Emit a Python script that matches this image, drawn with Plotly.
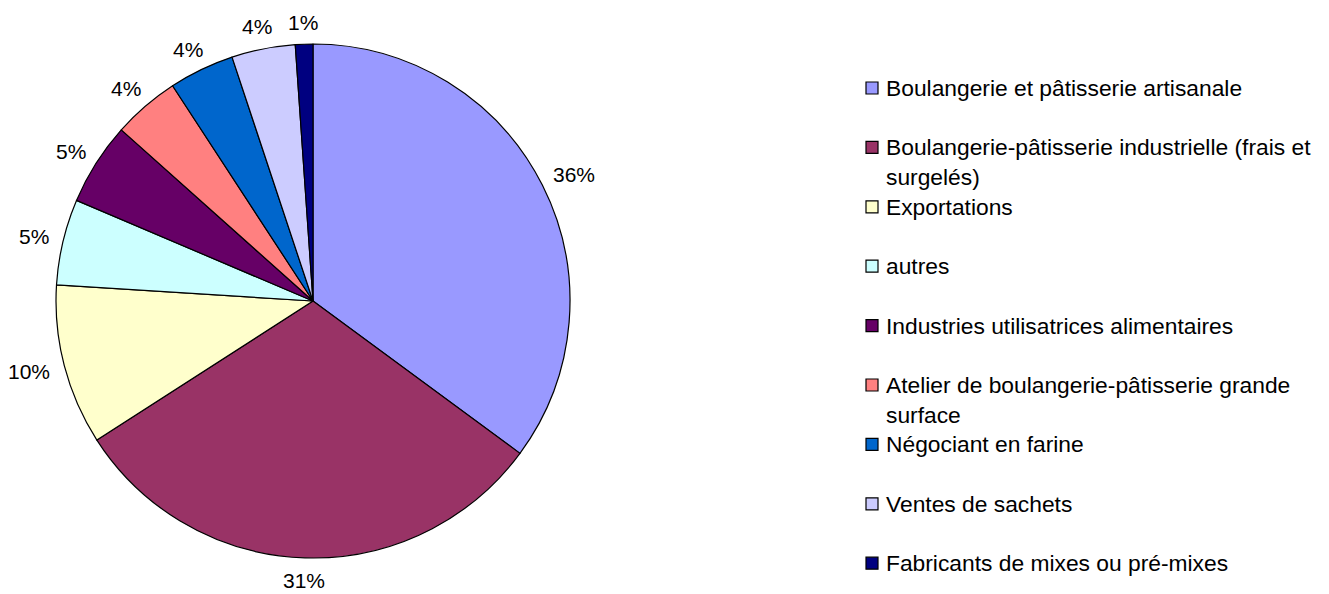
import math
import plotly.graph_objects as go

# ---- data ----
categories = [
    "Boulangerie et pâtisserie artisanale",
    "Boulangerie-pâtisserie industrielle (frais et surgelés)",
    "Exportations",
    "autres",
    "Industries utilisatrices alimentaires",
    "Atelier de boulangerie-pâtisserie grande surface",
    "Négociant en farine",
    "Ventes de sachets",
    "Fabricants de mixes ou pré-mixes",
]
legend_text = [
    "Boulangerie et pâtisserie artisanale",
    "Boulangerie-pâtisserie industrielle (frais et<br>surgelés)",
    "Exportations",
    "autres",
    "Industries utilisatrices alimentaires",
    "Atelier de boulangerie-pâtisserie grande<br>surface",
    "Négociant en farine",
    "Ventes de sachets",
    "Fabricants de mixes ou pré-mixes",
]
values = [35.1, 30.8, 10.1, 5.4, 5.2, 4.2, 4.1, 4.0, 1.1]
pct_labels = ["36%", "31%", "10%", "5%", "5%", "4%", "4%", "4%", "1%"]
colors = ["#9999FF", "#993366", "#FFFFCC", "#CCFFFF", "#660066",
          "#FF8080", "#0066CC", "#CCCCFF", "#000080"]

# figure size (page body adds an 8px margin around the plot)
W, H = 1321, 586
FONT = "Liberation Sans, Arial, sans-serif"

# pie geometry in figure pixels
cx, cy, R = 305, 293, 257
dom_x = [(cx - R) / W, (cx + R) / W]
dom_y = [1 - (cy + R) / H, 1 - (cy - R) / H]

fig = go.Figure()
fig.add_trace(go.Pie(
    labels=categories,
    values=values,
    textinfo="none",
    sort=False,
    direction="clockwise",
    rotation=0,
    marker=dict(colors=colors, line=dict(color="black", width=1.2)),
    domain=dict(x=dom_x, y=dom_y),
    showlegend=False,
    hoverinfo="label+percent",
))

annotations = []
shapes = []

# ---- slice labels, placed outside each slice at its mid angle ----
lab_fs = 21
gap = 15
total = sum(values)
cum = 0.0
for v, txt in zip(values, pct_labels):
    mid = (cum + v / 2) / total * 2 * math.pi
    cum += v
    dx, dy = math.sin(mid), -math.cos(mid)
    tw = lab_fs * (0.556 * (len(txt) - 1) + 0.889)
    th = 0.72 * lab_fs
    px = cx + dx * (R + gap) + dx * tw / 2
    py = cy + dy * (R + gap) + dy * th / 2
    py = min(max(py, 14), H - 14)
    annotations.append(dict(
        x=px / W, y=1 - py / H, xref="paper", yref="paper",
        xanchor="center", yanchor="middle", text=txt, showarrow=False,
        font=dict(family=FONT, size=lab_fs, color="black"),
    ))

# ---- manual legend (Excel style) ----
leg_font = 22.8
line_h = 1.3 * leg_font
top_px, step_px = 80, 59.4
for i, (txt, col) in enumerate(zip(legend_text, colors)):
    yc = top_px + i * step_px
    shapes.append(dict(
        type="rect", xref="paper", yref="paper",
        x0=858 / W, x1=870 / W,
        y0=1 - (yc + 6) / H, y1=1 - (yc - 6) / H,
        fillcolor=col, line=dict(color="black", width=1.2),
    ))
    nlines = txt.count("<br>") + 1
    ymid = yc + (nlines - 1) * line_h / 2
    annotations.append(dict(
        x=876 / W, y=1 - ymid / H, xref="paper", yref="paper",
        xanchor="left", yanchor="middle", align="left",
        text=txt, showarrow=False,
        font=dict(family=FONT, size=leg_font, color="black"),
    ))

fig.update_layout(
    width=W, height=H,
    margin=dict(l=0, r=0, t=0, b=0),
    paper_bgcolor="white", plot_bgcolor="white",
    shapes=shapes, annotations=annotations,
)

fig.write_html("out.html")
